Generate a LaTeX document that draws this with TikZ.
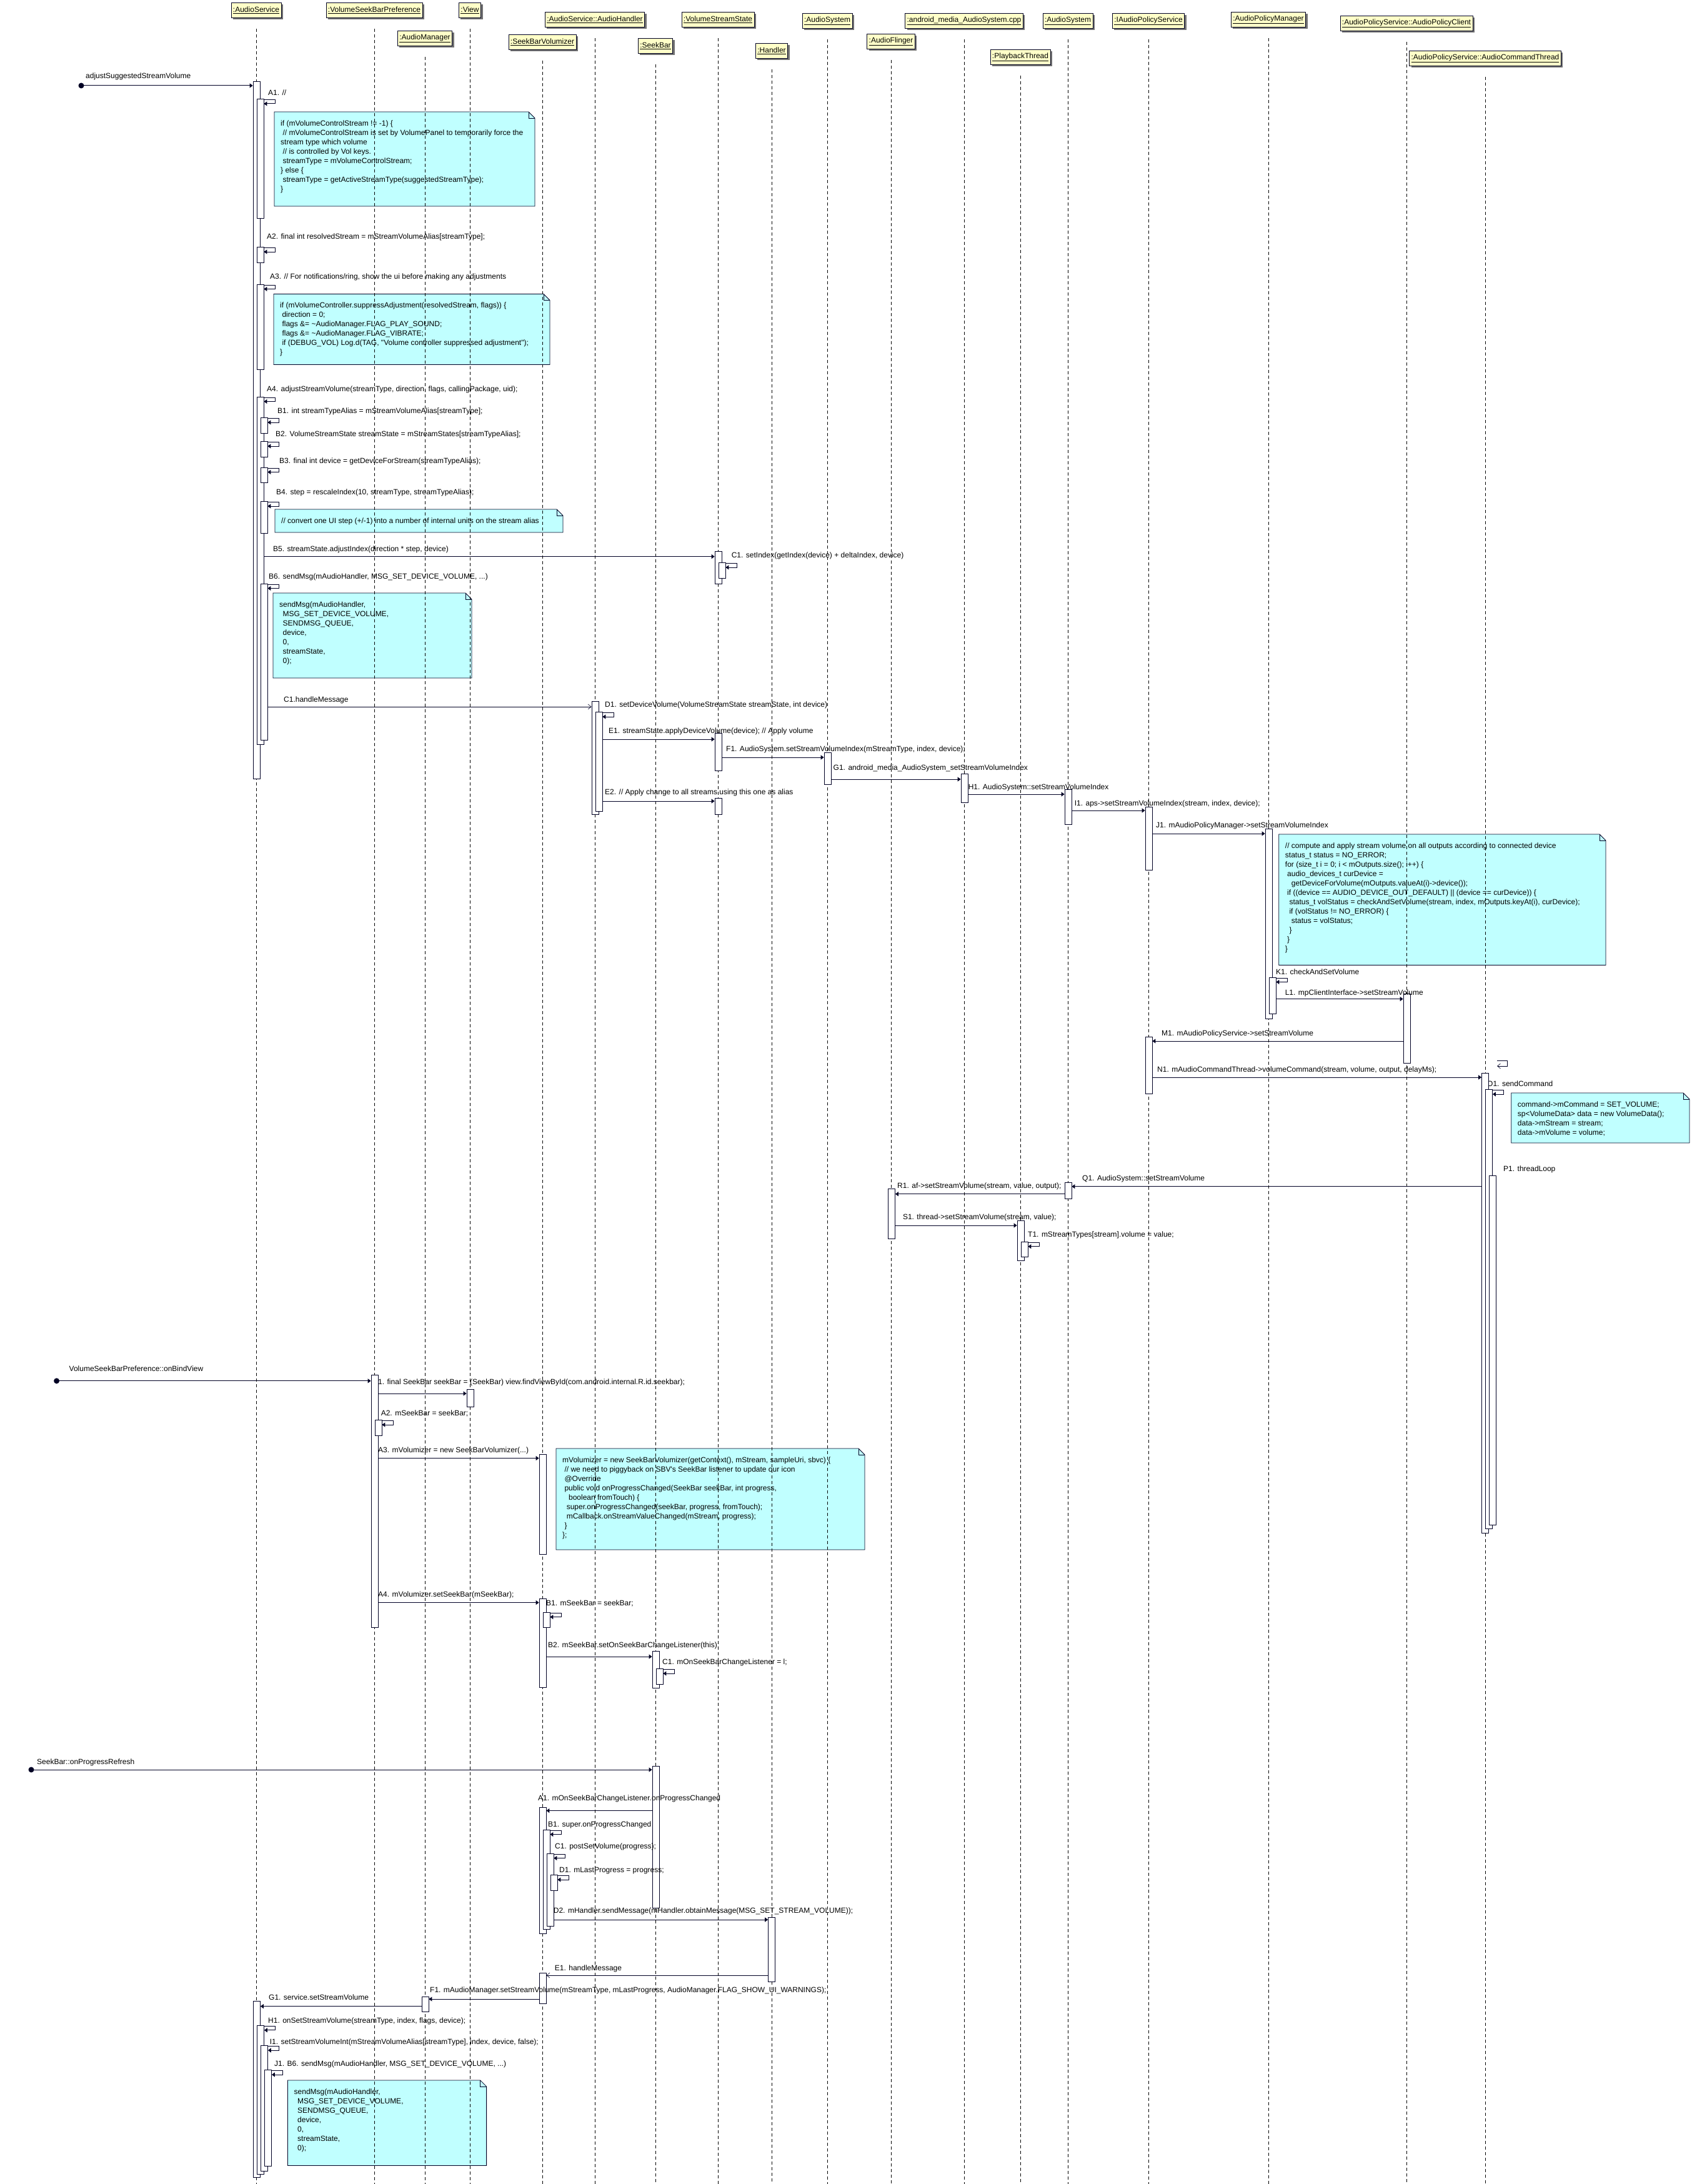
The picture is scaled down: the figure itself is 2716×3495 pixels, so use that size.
\documentclass[tikz,border=0pt]{standalone}
\usepackage{fontspec}
\setmainfont{Liberation Sans}
\usetikzlibrary{arrows.meta,shadows}
\pgfdeclarelayer{bg}
\pgfdeclarelayer{life}
\pgfdeclarelayer{mid}
\pgfdeclarelayer{top}
\pgfsetlayers{bg,life,mid,main,top}
\definecolor{notefill}{RGB}{192,255,255}
\definecolor{hdrfill}{RGB}{255,255,200}
\definecolor{ink}{RGB}{0,0,36}
\newcommand\fs{\fontsize{12}{15}\selectfont}
\newcommand\ind{\hspace*{3.3pt}}
\newcommand\indd{\hspace*{5.5pt}}
% header + lifeline
\newcommand\hd[4]{\node[hdr] (#1) at (#2,#3) {\underline{#4}};
  \begin{pgfonlayer}{life}\coordinate (#1end) at (#2,3495);
  \draw[life] ([yshift=-17pt]#1.south) -- (#1end);\end{pgfonlayer}}
% activation box
\newcommand\act[4]{\node[actbox, minimum height={(#4-#3)*1pt}] (#1) at (#2,#3) {};}
% self message
\newcommand\selfl[1]{\begin{pgfonlayer}{mid}\draw[msg] ([yshift=-1.5pt]#1.north east) -- ++(18,0) -- ++(0,6.5) -- ++(-18,0);\end{pgfonlayer}}
% messages
\newcommand\msgR[4][msg]{\begin{pgfonlayer}{mid}\draw[#1] (#2.east |- 0,#4) -- (#3.west |- 0,#4);\end{pgfonlayer}}
\newcommand\msgL[4][msg]{\begin{pgfonlayer}{mid}\draw[#1] (#2.west |- 0,#4) -- (#3.east |- 0,#4);\end{pgfonlayer}}
% labels (top layer, or under the boxes)
\newcommand\lb[4]{\begin{pgfonlayer}{top}\node[lbl] (#1) at (#2,{#3+4}) {#4};\end{pgfonlayer}}
\newcommand\lbm[4]{\begin{pgfonlayer}{mid}\node[lbl] (#1) at (#2,{#3+4}) {#4};\end{pgfonlayer}}
% note
\newcommand\note[6]{\begin{pgfonlayer}{bg}
  \draw[notebox] (#2,#3) -- ({#4-10},#3) -- (#4,{#3+10}) -- (#4,#5) -- (#2,#5) -- cycle;
  \draw[draw=ink, line width=0.8pt] ({#4-10},#3) -- ({#4-10},{#3+10}) -- (#4,{#3+10});
  \node[notetxt] (#1) at ({#2+10},{#3+11}) {\rule{0pt}{11pt}#6};
  \end{pgfonlayer}}
\begin{document}
\begin{tikzpicture}[x=1pt,y=-1pt,
  every node/.style={font=\fs},
  hdr/.style={draw=ink, fill=hdrfill, line width=0.8pt, inner xsep=3pt, inner ysep=0pt,
    minimum height=24pt, anchor=north, text=black,
    drop shadow={shadow xshift=3pt, shadow yshift=-3pt, fill=black!55, opacity=1}},
  life/.style={draw=black, line width=0.8pt, dash pattern=on 5pt off 4pt},
  actbox/.style={draw=ink, fill=white, line width=0.8pt, minimum width=11pt, inner sep=0pt, anchor=north},
  msg/.style={draw=ink, line width=1pt, -{Triangle[length=5pt,width=7pt]}},
  amsg/.style={draw=ink, line width=0.6pt, -{Straight Barb[length=5pt,width=8pt]}},
  lbl/.style={inner sep=0pt, anchor=base west, text=black},
  notebox/.style={draw=ink, fill=notefill, line width=0.8pt},
  notetxt/.style={inner sep=0pt, anchor=north west, align=left, text=black},
  startdot/.style={circle, fill=ink, inner sep=0pt, minimum size=9pt}
]
\begin{pgfonlayer}{bg}
\fill[white] (0,0) rectangle (2716,3495);
\end{pgfonlayer}
\useasboundingbox (0,0) rectangle (2716,3495);

% ---------------- headers and lifelines
\hd{hAS}{410}{4}{:AudioService}
\hd{hVP}{599}{4}{:VolumeSeekBarPreference}
\hd{hVW}{752}{4}{:View}
\hd{hAM}{680}{49}{:AudioManager}
\hd{hAH}{952}{19}{:AudioService::AudioHandler}
\hd{hSBV}{868}{55}{:SeekBarVolumizer}
\hd{hVSS}{1149}{19}{:VolumeStreamState}
\hd{hSB}{1049}{61}{:SeekBar}
\hd{hHD}{1235}{69}{:Handler}
\hd{hASY}{1324}{21}{:AudioSystem}
\hd{hAF}{1426}{54}{:AudioFlinger}
\hd{hAMJ}{1543}{21}{:android\_media\_AudioSystem.cpp}
\hd{hPT}{1633}{79}{:PlaybackThread}
\hd{hASYb}{1709}{21}{:AudioSystem}
\hd{hIAPS}{1838}{21}{:IAudioPolicyService}
\hd{hAPM}{2030}{19}{:AudioPolicyManager}
\hd{hAPC}{2251}{25}{:AudioPolicyService::AudioPolicyClient}
\hd{hACT}{2377}{81}{:AudioPolicyService::AudioCommandThread}

% ---------------- notes
\note{nA1}{439}{179}{856}{330}{if (mVolumeControlStream != -1) \{\\
\ind// mVolumeControlStream is set by VolumePanel to temporarily force the\\
stream type which volume\\
\ind// is controlled by Vol keys.\\
\ind streamType = mVolumeControlStream;\\
\} else \{\\
\ind streamType = getActiveStreamType(suggestedStreamType);\\
\}}
\note{nA3}{438}{470.5}{880}{583.5}{if (mVolumeController.suppressAdjustment(resolvedStream, flags)) \{\\
\ind direction = 0;\\
\ind flags \&= \textasciitilde{}AudioManager.FLAG\_PLAY\_SOUND;\\
\ind flags \&= \textasciitilde{}AudioManager.FLAG\_VIBRATE;\\
\ind if (DEBUG\_VOL) Log.d(TAG, \textquotedbl Volume controller suppressed adjustment\textquotedbl);\\
\}}
\note{nB4}{440}{815}{901}{852}{// convert one UI step (+/-1) into a number of internal units on the stream alias}
\note{nB6}{437}{949}{755}{1085}{sendMsg(mAudioHandler,\\
\indd MSG\_SET\_DEVICE\_VOLUME,\\
\indd SENDMSG\_QUEUE,\\
\indd device,\\
\indd 0,\\
\indd streamState,\\
\indd 0);}
\note{nJ1}{2046.7}{1335}{2570}{1544.5}{// compute and apply stream volume on all outputs according to connected device\\
status\_t status = NO\_ERROR;\\
for (size\_t i = 0; i < mOutputs.size(); i++) \{\\
\ind audio\_devices\_t curDevice =\\
\ind\ind\ind getDeviceForVolume(mOutputs.valueAt(i)->device());\\
\ind if ((device == AUDIO\_DEVICE\_OUT\_DEFAULT) || (device == curDevice)) \{\\
\ind\ind status\_t volStatus = checkAndSetVolume(stream, index, mOutputs.keyAt(i), curDevice);\\
\ind\ind if (volStatus != NO\_ERROR) \{\\
\ind\ind\ind status = volStatus;\\
\ind\ind \}\\
\ind \}\\
\}}
\note{nO1}{2418.7}{1749}{2704}{1829}{command->mCommand = SET\_VOLUME;\\
sp<VolumeData> data = new VolumeData();\\
data->mStream = stream;\\
data->mVolume = volume;}
\note{nA3b}{890}{2318}{1384}{2480}{mVolumizer = new SeekBarVolumizer(getContext(), mStream, sampleUri, sbvc) \{\\
\ind// we need to piggyback on SBV\textquotesingle s SeekBar listener to update our icon\\
\ind @Override\\
\ind public void onProgressChanged(SeekBar seekBar, int progress,\\
\ind\ind\ind boolean fromTouch) \{\\
\ind\ind super.onProgressChanged(seekBar, progress, fromTouch);\\
\ind\ind mCallback.onStreamValueChanged(mStream, progress);\\
\ind \}\\
\};}
\note{nJ1b}{460.5}{3329}{778.6}{3465.5}{sendMsg(mAudioHandler,\\
\indd MSG\_SET\_DEVICE\_VOLUME,\\
\indd SENDMSG\_QUEUE,\\
\indd device,\\
\indd 0,\\
\indd streamState,\\
\indd 0);}

% ---------------- activation boxes
% section 1
\act{AS0}{410.5}{130}{1246}
\act{ASa1}{416.5}{158}{349}
\act{ASa2}{416.5}{395}{420}
\act{ASa3}{416.5}{454.5}{590.6}
\act{ASa4}{416.5}{634.5}{1191}
\act{ASb1}{422.5}{668}{693}
\act{ASb2}{422.5}{706}{731}
\act{ASb3}{422.5}{747.5}{772}
\act{ASb4}{422.5}{802}{853}
\act{ASb6}{422.5}{933.5}{1184}
\act{VSSa}{1149.5}{882}{934}
\act{VSSc}{1155.5}{900}{925}
\act{AHa}{952.5}{1122}{1303}
\act{AHb}{958.5}{1139}{1298}
\act{VSSb}{1149.5}{1173}{1233}
\act{ASYa}{1324.5}{1204}{1255}
\act{AMJa}{1543.5}{1238}{1284}
\act{ASYb}{1709.5}{1263}{1319}
\act{VSSd}{1149.5}{1277}{1302.7}
\act{IAPSa}{1838.5}{1290.6}{1392}
\act{APMa}{2030.5}{1326}{1629.5}
\act{APMb}{2036.5}{1563.5}{1621.6}
\act{APCa}{2251.5}{1590}{1700.6}
\act{IAPSb}{1838.5}{1659}{1750}
\act{ACTa}{2377}{1716.5}{2453}
\act{ACTb}{2383}{1743}{2446.3}
\act{ACTc}{2389}{1881}{2440.3}
\act{ASYc}{1709.5}{1891.7}{1918}
\act{AFa}{1427}{1902}{1982}
\act{PTa}{1633.5}{1953}{2017}
\act{PTb}{1639.5}{1986.7}{2011}
% section 2
\act{VPa}{599.5}{2200}{2604}
\act{VWa}{752.5}{2222.5}{2251}
\act{VPb}{605.5}{2272}{2297}
\act{SBVa}{868.5}{2326.5}{2487}
\act{SBVb}{868.5}{2558}{2699.6}
\act{SBVc}{874.5}{2579.6}{2604}
\act{SBa}{1049.5}{2641.6}{2701}
\act{SBb}{1055.5}{2670}{2695}
% section 3
\act{SBc}{1049.5}{2826}{3052.5}
\act{SBVd}{868.5}{2892}{3094}
\act{SBVe}{874.5}{2927.5}{3087}
\act{SBVf}{880.5}{2965.5}{3082}
\act{SBVg}{886.5}{3000}{3025}
\act{HDa}{1235}{3067.5}{3171}
\act{SBVh}{868.5}{3156.5}{3206}
\act{AMa}{680.5}{3194.5}{3219}
\act{ASc}{411}{3202}{3484}
\act{ASd}{417}{3240.8}{3479}
\act{ASe}{423}{3273}{3474}
\act{ASf}{429}{3312}{3466}

% ---------------- messages and labels
% section 1
\begin{pgfonlayer}{mid}
\node[startdot] (sd1) at (130,137) {};
\draw[msg] (sd1.center) -- (AS0.west |- sd1.center);
\end{pgfonlayer}
\lb{t0}{137}{122}{adjustSuggestedStreamVolume}
\lb{tA1}{429}{149}{A1. //}
\selfl{ASa1}
\lb{tA2}{427}{378}{A2. final int resolvedStream = mStreamVolumeAlias[streamType];}
\selfl{ASa2}
\lb{tA3}{432}{442}{A3. // For notifications/ring, show the ui before making any adjustments}
\selfl{ASa3}
\lb{tA4}{427}{622}{A4. adjustStreamVolume(streamType, direction, flags, callingPackage, uid);}
\selfl{ASa4}
\lb{tB1}{444}{657}{B1. int streamTypeAlias = mStreamVolumeAlias[streamType];}
\selfl{ASb1}
\lb{tB2}{441}{694}{B2. VolumeStreamState streamState = mStreamStates[streamTypeAlias];}
\selfl{ASb2}
\lb{tB3}{447}{737}{B3. final int device = getDeviceForStream(streamTypeAlias);}
\selfl{ASb3}
\lb{tB4}{442}{787}{B4. step = rescaleIndex(10, streamType, streamTypeAlias);}
\selfl{ASb4}
\lb{tB5}{437}{878.6}{B5. streamState.adjustIndex(direction * step, device)}
\msgR{ASa4}{VSSa}{890.6}
\lb{tC1}{1170.6}{888}{C1. setIndex(getIndex(device) + deltaIndex, device)}
\selfl{VSSc}
\lb{tB6}{430}{922}{B6. sendMsg(mAudioHandler, MSG\_SET\_DEVICE\_VOLUME, ...)}
\selfl{ASb6}
\lb{tC1h}{454}{1119}{C1.handleMessage}
\msgR[amsg]{ASb6}{AHa}{1131}
\lb{tD1}{968}{1127.7}{D1. setDeviceVolume(VolumeStreamState streamState, int device)}
\selfl{AHb}
\lb{tE1}{974}{1169}{E1. streamState.applyDeviceVolume(device); // Apply volume}
\msgR{AHb}{VSSb}{1183}
\lb{tF1}{1162}{1198}{F1. AudioSystem.setStreamVolumeIndex(mStreamType, index, device);}
\msgR{VSSb}{ASYa}{1212}
\lb{tG1}{1333.5}{1228.7}{G1. android\_media\_AudioSystem\_setStreamVolumeIndex}
\msgR{ASYa}{AMJa}{1247}
\lb{tH1}{1549.6}{1259.7}{H1. AudioSystem::setStreamVolumeIndex}
\msgR{AMJa}{ASYb}{1271}
\lb{tE2}{968}{1267}{E2. // Apply change to all streams using this one as alias}
\msgR{AHb}{VSSd}{1282}
\lb{tI1}{1719.6}{1285}{I1. aps->setStreamVolumeIndex(stream, index, device);}
\msgR{ASYb}{IAPSa}{1297}
\lb{tJ1}{1850}{1320}{J1. mAudioPolicyManager->setStreamVolumeIndex}
\msgR{IAPSa}{APMa}{1334}
\lb{tK1}{2042}{1555}{K1. checkAndSetVolume}
\selfl{APMb}
\lb{tL1}{2056.6}{1588}{L1. mpClientInterface->setStreamVolume}
\msgR{APMb}{APCa}{1598.6}
\lb{tM1}{1859}{1653.6}{M1. mAudioPolicyService->setStreamVolume}
\msgL{APCa}{IAPSb}{1666}
\begin{pgfonlayer}{mid}
\coordinate (stA) at (2396,1697);
\coordinate (stB) at (2396,1706);
\draw[amsg] (stA) -- ++(16,0) -- ++(0,9) -- (stB);
\end{pgfonlayer}
\lb{tN1}{1852}{1711.7}{N1. mAudioCommandThread->volumeCommand(stream, volume, output, delayMs);}
\msgR{IAPSb}{ACTa}{1724}
\lbm{tO1}{2380}{1734.6}{O1. sendCommand}
\selfl{ACTb}
\lb{tP1}{2406}{1870}{P1. threadLoop}
\lb{tQ1}{1732}{1885}{Q1. AudioSystem::setStreamVolume}
\msgL{ACTc}{ASYc}{1898.7}
\lb{tR1}{1436}{1897}{R1. af->setStreamVolume(stream, value, output);}
\msgL{ASYc}{AFa}{1910.7}
\lb{tS1}{1444.8}{1947}{S1. thread->setStreamVolume(stream, value);}
\msgR{AFa}{PTa}{1961}
\lb{tT1}{1645}{1975}{T1. mStreamTypes[stream].volume = value;}
\selfl{PTb}
% section 2
\begin{pgfonlayer}{mid}
\node[startdot] (sd2) at (90.6,2209.8) {};
\draw[msg] (sd2.center) -- (VPa.west |- sd2.center);
\end{pgfonlayer}
\lb{u0}{110.5}{2190.6}{VolumeSeekBarPreference::onBindView}
\lbm{uA1}{597}{2211}{A1. final SeekBar seekBar = (SeekBar) view.findViewById(com.android.internal.R.id.seekbar);}
\msgR{VPa}{VWa}{2230}
\lb{uA2}{609.6}{2261}{A2. mSeekBar = seekBar;}
\selfl{VPb}
\lb{uA3}{605}{2320}{A3. mVolumizer = new SeekBarVolumizer(...)}
\msgR{VPa}{SBVa}{2333.5}
\lb{uA4}{605}{2551}{A4. mVolumizer.setSeekBar(mSeekBar);}
\msgR{VPa}{SBVb}{2564.5}
\lb{uB1}{874}{2565}{B1. mSeekBar = seekBar;}
\selfl{SBVc}
\lb{uB2}{877}{2632.6}{B2. mSeekBar.setOnSeekBarChangeListener(this);}
\msgR{SBVb}{SBa}{2651}
\lb{uC1}{1060}{2659.6}{C1. mOnSeekBarChangeListener = l;}
\selfl{SBb}
% section 3
\begin{pgfonlayer}{mid}
\node[startdot] (sd3) at (50,2832) {};
\draw[msg] (sd3.center) -- (SBc.west |- sd3.center);
\end{pgfonlayer}
\lb{v0}{59}{2819}{SeekBar::onProgressRefresh}
\lb{vA1}{861}{2877}{A1. mOnSeekBarChangeListener.onProgressChanged}
\msgL{SBc}{SBVd}{2897.5}
\lb{vB1}{877}{2919.6}{B1. super.onProgressChanged}
\selfl{SBVe}
\lb{vC1}{888}{2954.6}{C1. postSetVolume(progress);}
\selfl{SBVf}
\lb{vD1}{895}{2992}{D1. mLastProgress = progress;}
\selfl{SBVg}
\lb{vD2}{885.7}{3057.6}{D2. mHandler.sendMessage(mHandler.obtainMessage(MSG\_SET\_STREAM\_VOLUME));}
\msgR{SBVf}{HDa}{3072}
\lb{vE1}{887.7}{3149}{E1. handleMessage}
\msgL[amsg]{HDa}{SBVh}{3161}
\lb{vF1}{688}{3184.7}{F1. mAudioManager.setStreamVolume(mStreamType, mLastProgress, AudioManager.FLAG\_SHOW\_UI\_WARNINGS);}
\msgL{SBVh}{AMa}{3199}
\lb{vG1}{430}{3196.5}{G1. service.setStreamVolume}
\msgL{AMa}{ASc}{3210.6}
\lb{vH1}{429}{3233.7}{H1. onSetStreamVolume(streamType, index, flags, device);}
\selfl{ASd}
\lb{vI1}{431.7}{3267}{I1. setStreamVolumeInt(mStreamVolumeAlias[streamType], index, device, false);}
\selfl{ASe}
\lb{vJ1}{439}{3302.7}{J1. B6. sendMsg(mAudioHandler, MSG\_SET\_DEVICE\_VOLUME, ...)}
\selfl{ASf}
\end{tikzpicture}
\end{document}
